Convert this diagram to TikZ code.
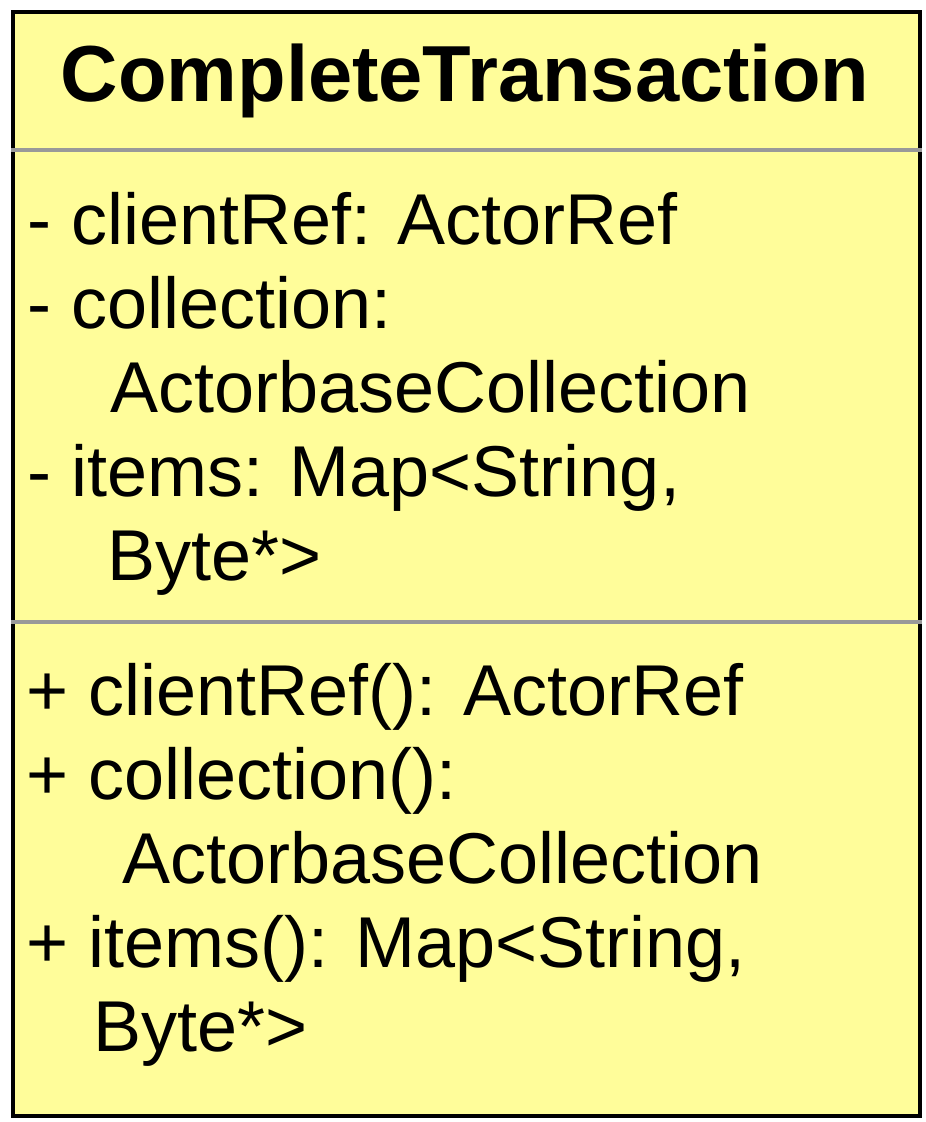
\documentclass[tikz,border=0pt]{standalone}
\usepackage{fontspec}
\setmainfont{Liberation Sans}
\definecolor{umlfill}{RGB}{255,253,154}
\definecolor{sepgray}{RGB}{153,153,153}
\begin{document}
\begin{tikzpicture}[x=1pt,y=-1pt,
  txt/.style={anchor=base west,inner sep=0pt,font=\fontsize{72}{84}\selectfont},
  ttl/.style={anchor=base,inner sep=0pt,font=\fontsize{79.5}{90}\selectfont\bfseries}]
\useasboundingbox (0,0) rectangle (926,1122);
\node[draw=black,line width=4pt,fill=umlfill,minimum width=906.5pt,minimum height=1103.5pt,inner sep=0pt,anchor=north west] (box) at (11,10) {};
\draw[sepgray,line width=3.5pt] (box.west |- 0,150) coordinate (s1a) -- (box.east |- 0,150) coordinate (s1b);
\draw[sepgray,line width=3.5pt] (box.west |- 0,622) coordinate (s2a) -- (box.east |- 0,622) coordinate (s2b);
\node[ttl] (title) at (465,101.5) {CompleteTransaction};
\node[txt] (a1) at (27,244) {- clientRef: ActorRef};
\node[txt] (a2) at (27,328) {- collection:};
\node[txt] (a3) at (110,412) {ActorbaseCollection};
\node[txt] (a4) at (27,496) {- items: Map<String,};
\node[txt] (a5) at (107,580) {Byte*>};
\node[txt] (m1) at (26.5,715) {+ clientRef(): ActorRef};
\node[txt] (m2) at (26.5,799) {+ collection():};
\node[txt] (m3) at (122,883) {ActorbaseCollection};
\node[txt] (m4) at (26.5,967) {+ items(): Map<String,};
\node[txt] (m5) at (93,1051) {Byte*>};
\end{tikzpicture}
\end{document}
